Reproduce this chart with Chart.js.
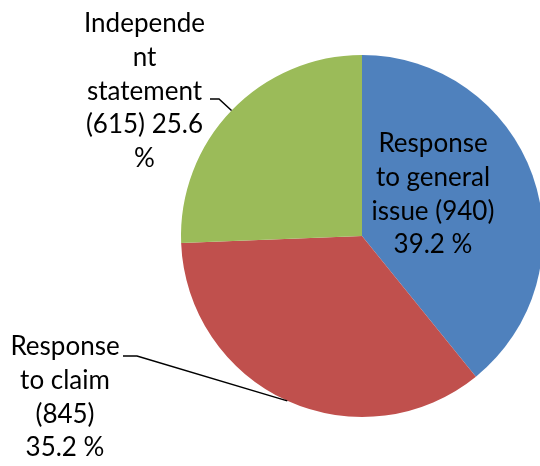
<!DOCTYPE html>
<html>
<head>
<meta charset="utf-8">
<script src="https://cdn.jsdelivr.net/npm/chart.js@4/dist/chart.umd.min.js"></script>
<style>
  html, body { margin: 0; padding: 0; background: #fff; overflow: hidden; width: 540px; height: 466px; }
  canvas { display: block; }
</style>
</head>
<body>
<canvas id="pie" width="560" height="472"></canvas>
<script>
  const categories = ['Response to general issue', 'Response to claim', 'Independent statement'];
  const counts = [940, 845, 615];
  const colors = ['#4F81BD', '#C0504D', '#9BBB59'];

  const FONT = '26px Lato';
  const LINE_H = 33.8;

  // where each label goes (text centre x, first baseline y, wrap width, leader elbow)
  const labelLayout = [
    { cx: 433, y: 152, wrap: 132 },
    { cx: 65, y: 355, wrap: 113, elbow: [[123, 356], [137, 356]] },
    { cx: 144.5, y: 32, wrap: 128, elbow: [[210, 99], [219, 99]] }
  ];

  function wrapText(ctx, text, maxW) {
    const lines = [];
    let line = '';
    text.split(' ').forEach(word => {
      const test = line ? line + ' ' + word : word;
      if (ctx.measureText(test).width <= maxW) { line = test; return; }
      if (line) lines.push(line);
      let w = word;
      while (ctx.measureText(w).width > maxW) {
        let i = w.length;
        while (i > 1 && ctx.measureText(w.slice(0, i)).width > maxW) i--;
        lines.push(w.slice(0, i));
        w = w.slice(i);
      }
      line = w;
    });
    if (line) lines.push(line);
    return lines;
  }

  const total = counts.reduce((a, b) => a + b, 0);

  const pieLabels = {
    id: 'pieLabels',
    afterDraw(chart) {
      const ctx = chart.ctx;
      const arcs = chart.getDatasetMeta(0).data;
      ctx.save();
      ctx.font = FONT;
      ctx.fillStyle = '#000';
      ctx.textAlign = 'center';
      ctx.textBaseline = 'alphabetic';
      arcs.forEach((arc, i) => {
        const lay = labelLayout[i];
        const pct = (counts[i] / total * 100).toFixed(1);
        const text = categories[i] + ' (' + counts[i] + ') ' + pct + ' %';
        const lines = wrapText(ctx, text, lay.wrap);
        lines.forEach((ln, k) => ctx.fillText(ln, lay.cx, lay.y + k * LINE_H));
        if (lay.elbow) {
          const p = arc.getProps(['x', 'y', 'startAngle', 'endAngle', 'outerRadius'], true);
          const mid = (p.startAngle + p.endAngle) / 2;
          const ex = p.x + Math.cos(mid) * p.outerRadius;
          const ey = p.y + Math.sin(mid) * p.outerRadius;
          ctx.beginPath();
          ctx.moveTo(lay.elbow[0][0], lay.elbow[0][1]);
          ctx.lineTo(lay.elbow[1][0], lay.elbow[1][1]);
          ctx.lineTo(ex, ey);
          ctx.lineWidth = 1.5;
          ctx.strokeStyle = '#000';
          ctx.stroke();
        }
      });
      ctx.restore();
    }
  };

  new Chart(document.getElementById('pie'), {
    type: 'pie',
    data: {
      labels: categories,
      datasets: [{
        data: counts,
        backgroundColor: colors,
        borderWidth: 0
      }]
    },
    options: {
      responsive: false,
      animation: false,
      layout: { padding: { left: 181, right: 17, top: 55, bottom: 55 } },
      plugins: {
        legend: { display: false },
        tooltip: { enabled: false }
      }
    },
    plugins: [pieLabels]
  });
</script>
</body>
</html>
